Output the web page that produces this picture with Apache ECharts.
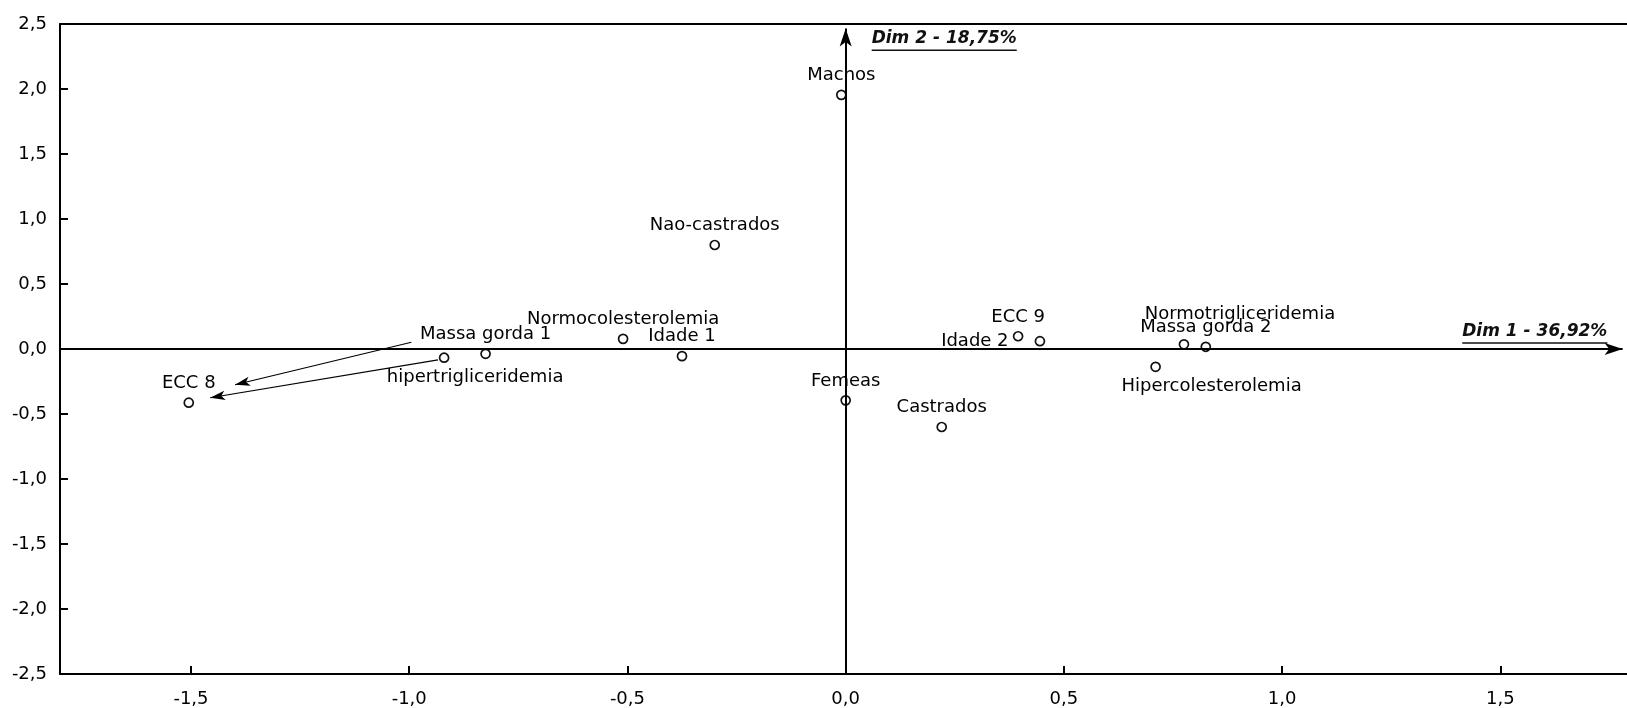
<!DOCTYPE html>
<html>
<head>
<meta charset="utf-8">
<script src="https://cdn.jsdelivr.net/npm/echarts@6/dist/echarts.min.js"></script>
<style>
html,body{margin:0;padding:0;background:#fff;}
#main{width:1627px;height:708px;}
</style>
</head>
<body>
<div id="main"></div>
<script>
// ---- data ----
const categories = ['Machos','Nao-castrados','Normocolesterolemia','Idade 1','Massa gorda 1',
  'hipertrigliceridemia','ECC 8','Femeas','Castrados','ECC 9','Idade 2',
  'Normotrigliceridemia','Massa gorda 2','Hipercolesterolemia'];
const dim1 = [-0.01, -0.30, -0.51, -0.375, -0.825, -0.92, -1.505, 0.0, 0.22, 0.395, 0.445, 0.775, 0.825, 0.71];
const dim2 = [1.955, 0.80, 0.078, -0.055, -0.037, -0.067, -0.413, -0.395, -0.60, 0.098, 0.06, 0.036, 0.017, -0.137];
const xTickValues = [-1.5, -1.0, -0.5, 0.0, 0.5, 1.0, 1.5];
const yTickValues = [-2.5, -2.0, -1.5, -1.0, -0.5, 0.0, 0.5, 1.0, 1.5, 2.0, 2.5];
const axisTitles = ['Dim 1 - 36,92%', 'Dim 2 - 18,75%'];
const arrowStarts = [[-0.995, 0.052], [-0.934, -0.083]];
const arrowEnds = [[-1.399, -0.275], [-1.456, -0.375]];

// ---- label placement (style only) ----
const labelPlacement = {
  'hipertrigliceridemia': {position: 'bottom', offset: [31, 0]},
  'Idade 2': {position: 'left', distance: 26},
  'Normotrigliceridemia': {offset: [56, -11]},
  'Hipercolesterolemia': {position: 'bottom', offset: [56, 0]}
};

const FONT = '"DejaVu Sans", "Liberation Sans", sans-serif';
const fmt = v => Number(v).toFixed(1).replace('.', ',');
const XMIN = -1.8, XMAX = 1.79, YMIN = -2.5, YMAX = 2.5;

const points = categories.map((n, i) => {
  const item = {name: n, value: [dim1[i], dim2[i]]};
  if (labelPlacement[n]) item.label = Object.assign({}, labelPlacement[n]);
  return item;
});

const axisMarks = [
  [{coord: [XMIN, 0], symbol: 'none'}, {coord: [1.78, 0], symbol: 'arrow', symbolSize: [9, 18]}],
  [{coord: [0, YMIN], symbol: 'none'}, {coord: [0, 2.465], symbol: 'arrow', symbolSize: [9, 18]}]
];
arrowStarts.forEach((s, i) => {
  axisMarks.push([
    {coord: s, symbol: 'none', lineStyle: {width: 1.2, color: '#000'}},
    {coord: arrowEnds[i], symbol: 'arrow', symbolSize: [7, 15]}
  ]);
});

const chart = echarts.init(document.getElementById('main'), null, {renderer: 'canvas'});
const option = {
  animation: false,
  backgroundColor: '#fff',
  grid: {left: 60, top: 24, right: 0, height: 651, show: false},
  xAxis: [{
    type: 'value', min: XMIN, max: XMAX,
    axisLine: {show: true, onZero: false, lineStyle: {color: '#000', width: 2}},
    splitLine: {show: false},
    axisTick: {show: true, inside: true, length: 8, lineStyle: {color: '#000', width: 2}, customValues: xTickValues},
    axisLabel: {customValues: xTickValues, formatter: fmt, margin: 16,
      fontFamily: FONT, fontSize: 18, color: '#000'}
  }, {
    type: 'value', min: XMIN, max: XMAX, position: 'top',
    axisLine: {show: true, onZero: false, lineStyle: {color: '#000', width: 2}},
    splitLine: {show: false}, axisTick: {show: false}, axisLabel: {show: false}
  }],
  yAxis: {
    type: 'value', min: YMIN, max: YMAX, interval: 0.5,
    axisLine: {show: true, onZero: false, lineStyle: {color: '#000', width: 2}},
    splitLine: {show: false},
    axisTick: {show: true, inside: true, length: 8, lineStyle: {color: '#000', width: 2}},
    axisLabel: {formatter: fmt, margin: 13, fontFamily: FONT, fontSize: 18, color: '#000'}
  },
  series: [{
    type: 'scatter',
    xAxisIndex: 0,
    symbol: 'circle',
    symbolSize: 9,
    itemStyle: {color: 'rgba(255,255,255,0)', borderColor: '#111', borderWidth: 1.7, opacity: 1},
    label: {show: true, position: 'top', distance: 5, formatter: '{b}',
      fontFamily: FONT, fontSize: 18, color: '#000'},
    emphasis: {disabled: true},
    data: points,
    markLine: {
      silent: true, animation: false,
      lineStyle: {color: '#000', width: 2, type: 'solid'},
      label: {show: false},
      emphasis: {disabled: true},
      data: axisMarks
    }
  }]
};
chart.setOption(option);

const finder = {xAxisIndex: 0, yAxisIndex: 0};

// inside frame ticks (length measured in pixels, converted to data units by the axes)
const base = chart.convertToPixel(finder, [XMIN, YMIN]);
const far = chart.convertFromPixel(finder, [base[0] + 7, base[1] - 7]);
const tdx = far[0] - XMIN, tdy = far[1] - YMIN;
const tickMarks = [];
xTickValues.forEach(v => {
  tickMarks.push([{coord: [v, YMIN], symbol: 'none'}, {coord: [v, YMIN + tdy], symbol: 'none'}]);
});
yTickValues.forEach(v => {
  tickMarks.push([{coord: [XMIN, v], symbol: 'none'}, {coord: [XMIN + tdx, v], symbol: 'none'}]);
});

// axis titles (bold italic, underlined)
const dimFont = 'italic bold 17px "DejaVu Sans"';
const ctx = document.createElement('canvas').getContext('2d');
ctx.font = dimFont;
const w1 = ctx.measureText(axisTitles[0]).width;
const w2 = ctx.measureText(axisTitles[1]).width;
const a1 = chart.convertToPixel(finder, [1.745, 0]);
const a2 = chart.convertToPixel(finder, [0, 2.39]);
chart.setOption({
  series: [{markLine: {data: axisMarks.concat(tickMarks)}}],
  graphic: [
    {type: 'text', x: a1[0] - w1, y: a1[1] - 17, silent: true,
      style: {text: axisTitles[0], font: dimFont, fill: '#111', align: 'left', verticalAlign: 'middle'}},
    {type: 'line', silent: true, shape: {x1: a1[0] - w1, y1: a1[1] - 6, x2: a1[0], y2: a1[1] - 6},
      style: {stroke: '#111', lineWidth: 1.6}},
    {type: 'text', x: a2[0] + 26, y: a2[1], silent: true,
      style: {text: axisTitles[1], font: dimFont, fill: '#111', align: 'left', verticalAlign: 'middle'}},
    {type: 'line', silent: true, shape: {x1: a2[0] + 26, y1: a2[1] + 12, x2: a2[0] + 26 + w2, y2: a2[1] + 12},
      style: {stroke: '#111', lineWidth: 1.6}}
  ]
});
</script>
</body>
</html>
